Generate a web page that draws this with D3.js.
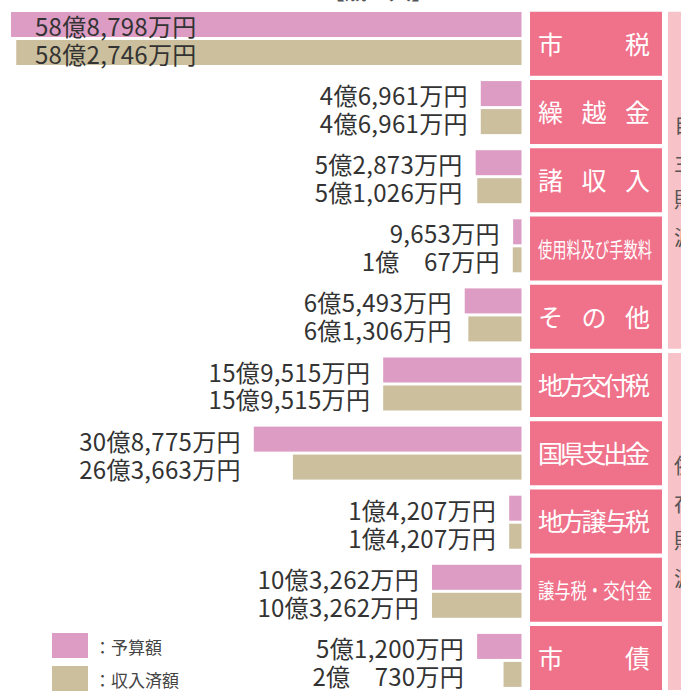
<!DOCTYPE html>
<html lang="ja">
<head>
<meta charset="utf-8">
<script src="https://cdn.jsdelivr.net/npm/d3@7/dist/d3.min.js"></script>
<style>
  html, body { margin: 0; padding: 0; background: #fff; }
  svg { display: block; font-family: "Noto Sans CJK JP", "Noto Sans", sans-serif; }
</style>
</head>
<body>
<svg id="chart" width="681" height="691"></svg>
<script>
// 歳入の内訳（単位：万円）
const categories = ["市税", "繰越金", "諸収入", "使用料及び手数料", "その他",
                    "地方交付税", "国県支出金", "地方譲与税", "譲与税・交付金", "市債"];
const budget   = [588798, 46961, 52873,  9653, 65493, 159515, 308775, 14207, 103262, 51200];
const received = [582746, 46961, 51026, 10067, 61306, 159515, 263663, 14207, 103262, 20730];
const seriesNames = ["予算額", "収入済額"];
const groups = [
  { name: "自主財源", from: "市税", to: "その他" },
  { name: "依存財源", from: "地方交付税", to: "市債" }
];
// Category names shown with wide spacing inside the label boxes
const spacedLabels = { "市税": "市　　　税", "市債": "市　　　債" };

const colors = { "予算額": "#dc9cc4", "収入済額": "#cbbf9d" };
const boxColor = "#f0718a";
const groupColor = "#f8c3c8";
const textColor = "#333";

const svg = d3.select("#chart");

// Bars grow leftward from a common right edge
const barRight = 521.5;
const x = d3.scaleLinear().domain([0, d3.max(budget)]).range([0, 510.5]);

const yRow = d3.scaleBand().domain(categories).range([12, 12 + 69.1 * categories.length]).paddingInner(0);
const ySeries = d3.scaleBand().domain(seriesNames).range([0, 53]).paddingInner(0.107);
const yBox = d3.scaleBand().domain(categories).range([11.75, 690]).paddingInner(0.062);

const rows = categories.map((c, i) => ({ cat: c, values: [budget[i], received[i]] }));

function fmt(v) {
  const oku = Math.floor(v / 10000);
  const man = v % 10000;
  if (oku === 0) return d3.format(",")(man) + "万円";
  if (man < 1000) return oku + "億\u3000" + man + "万円";
  return oku + "億" + d3.format(",")(man) + "万円";
}

// Group bands on the far right
groups.forEach(g => {
  const y0 = yBox(g.from), y1 = yBox(g.to) + yBox.bandwidth();
  svg.append("rect").attr("x", 668).attr("y", y0).attr("width", 40).attr("height", y1 - y0).attr("fill", groupColor);
  const chars = Array.from(g.name);
  const mid = (y0 + y1) / 2 - 1;
  chars.forEach((ch, k) => {
    svg.append("text").attr("x", 674).attr("y", mid + (k - 1.5) * 37.5)
      .attr("dominant-baseline", "central").attr("font-size", 21).attr("fill", "#555").text(ch);
  });
});

// Category label boxes
const boxes = svg.append("g").selectAll("g").data(categories).join("g");
boxes.append("rect").attr("x", 530).attr("y", d => yBox(d)).attr("width", 132).attr("height", yBox.bandwidth()).attr("fill", boxColor);
boxes.append("text")
  .attr("x", 538).attr("y", d => yBox(d) + yBox.bandwidth() / 2 - 1)
  .attr("dominant-baseline", "central")
  .attr("fill", "#fff")
  .attr("font-size", d => d.length > 5 ? 21 : 25)
  .attr("textLength", d => d.length > 5 ? 114 : 112)
  .attr("lengthAdjust", d => d.length > 5 ? "spacingAndGlyphs" : "spacing")
  .style("white-space", "pre")
  .text(d => spacedLabels[d] || d);

// Bars
const rowG = svg.append("g").selectAll("g").data(rows).join("g")
  .attr("transform", d => `translate(0,${yRow(d.cat)})`);
rowG.selectAll("rect").data(d => d.values.map((v, j) => ({ v, s: seriesNames[j] }))).join("rect")
  .attr("x", d => barRight - x(d.v))
  .attr("y", d => ySeries(d.s))
  .attr("width", d => x(d.v))
  .attr("height", ySeries.bandwidth())
  .attr("fill", d => colors[d.s]);

// Value labels: inside the bar when it is very long, otherwise right-aligned before the longer bar
rowG.each(function (d) {
  const g = d3.select(this);
  const maxV = d3.max(d.values);
  const inside = x(maxV) > 400;
  d.values.forEach((v, j) => {
    g.append("text")
      .attr("x", inside ? 35 : barRight - x(maxV) - 13)
      .attr("y", ySeries(seriesNames[j]) + ySeries.bandwidth() / 2 + 1)
      .attr("text-anchor", inside ? "start" : "end")
      .attr("dominant-baseline", "central")
      .attr("font-size", 24)
      .attr("letter-spacing", 0.3)
      .attr("fill", textColor)
      .style("white-space", "pre")
      .text(fmt(v));
  });
});

// Legend
const legend = svg.append("g").selectAll("g").data(seriesNames).join("g")
  .attr("transform", (d, i) => `translate(52,${633 + i * 33})`);
legend.append("rect").attr("width", 36).attr("height", 25).attr("fill", d => colors[d]);
legend.append("text").attr("x", 42).attr("y", 13).attr("dominant-baseline", "central")
  .attr("font-size", 17).attr("fill", "#444").text(d => "：" + d);

// Heading above the chart, mostly outside the top edge
svg.append("text").attr("x", 378).attr("y", -1).attr("text-anchor", "middle")
  .attr("font-size", 22).attr("fill", "#555").text("【歳　入】");
</script>
</body>
</html>
